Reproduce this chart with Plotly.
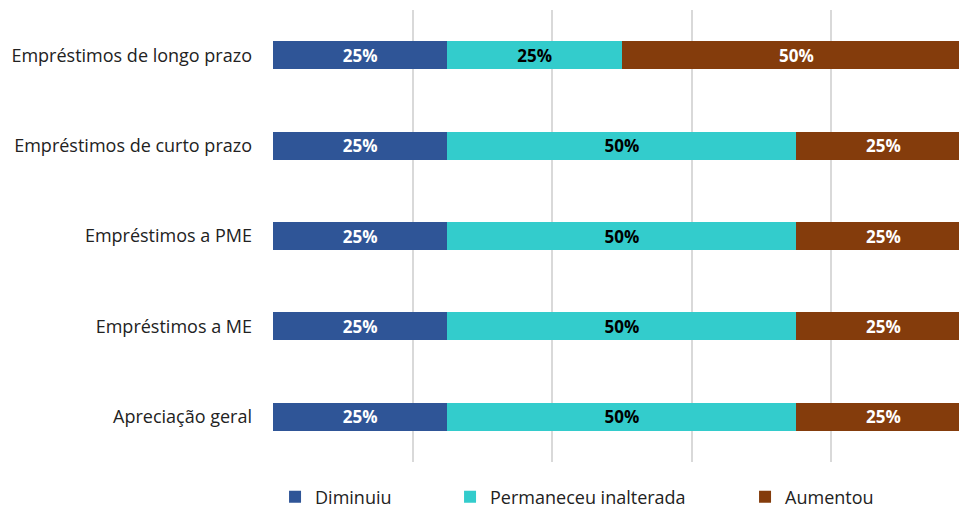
import plotly.graph_objects as go

categories = ["Empréstimos de longo prazo", "Empréstimos de curto prazo",
              "Empréstimos a PME", "Empréstimos a ME", "Apreciação geral"]
diminuiu = [25, 25, 25, 25, 25]
permaneceu = [25, 50, 50, 50, 50]
aumentou = [50, 25, 25, 25, 25]
series_names = ["Diminuiu", "Permaneceu inalterada", "Aumentou"]
x_ticks = [0, 20, 40, 60, 80, 100]

FONT = "Open Sans"
colors = ["#2F5597", "#33CCCC", "#843C0C"]
text_colors = ["white", "black", "white"]
legend_widths = [130, 250, 100]
LABEL_SIZE = 17
AXIS_SIZE = 18

fig = go.Figure()
series = [diminuiu, permaneceu, aumentou]
for i, (name, vals, c, tc, lw) in enumerate(zip(series_names, series,
                                                colors, text_colors, legend_widths)):
    last = i == len(series) - 1
    fig.add_trace(go.Bar(
        y=categories, x=vals, name=name, orientation="h",
        marker=dict(color=c, line=dict(width=0)),
        texttemplate=None if last else "%{x}%",
        textposition="none" if last else "inside", insidetextanchor="middle",
        textfont=dict(family=FONT, size=LABEL_SIZE, color=tc, weight="bold"),
        constraintext="none",
        legendwidth=lw, hoverinfo="x+name",
    ))

# labels for the last segment, centred on the full (partly off-screen) segment
base = [d + p for d, p in zip(diminuiu, permaneceu)]
mid = [b + a / 2 for b, a in zip(base, aumentou)]
for cat, xm, a in zip(categories, mid, aumentou):
    fig.add_annotation(
        x=xm, y=cat, xref="x", yref="y", text=f"{a}%", showarrow=False,
        xanchor="center", yanchor="middle",
        font=dict(family=FONT, size=LABEL_SIZE, color=text_colors[2], weight="bold"),
    )

fig.update_layout(
    width=959, height=510,
    margin=dict(l=273, r=0, t=10, b=48),
    barmode="stack", bargap=0.69,
    plot_bgcolor="white", paper_bgcolor="white",
    font=dict(family=FONT, size=AXIS_SIZE, color="#222222"),
    showlegend=True,
    legend=dict(orientation="h", xref="container", yref="container",
                x=0.2868, xanchor="left", y=0.0255, yanchor="middle",
                font=dict(family=FONT, size=AXIS_SIZE, color="#222222"),
                traceorder="normal"),
    xaxis=dict(range=[0, 98.3], tickvals=x_ticks, showticklabels=False,
               showgrid=True, gridcolor="#D9D9D9", gridwidth=2,
               zeroline=False, showline=False, fixedrange=True),
    yaxis=dict(categoryorder="array", categoryarray=categories, autorange="reversed",
               showgrid=False, zeroline=False, showline=False,
               ticks="", ticklabelstandoff=20, fixedrange=True,
               tickfont=dict(family=FONT, size=AXIS_SIZE, color="#222222")),
)
fig.write_html(
    "out.html",
    config={"displayModeBar": False},
    post_script="document.body.style.margin='0';document.body.style.overflow='hidden';",
)
